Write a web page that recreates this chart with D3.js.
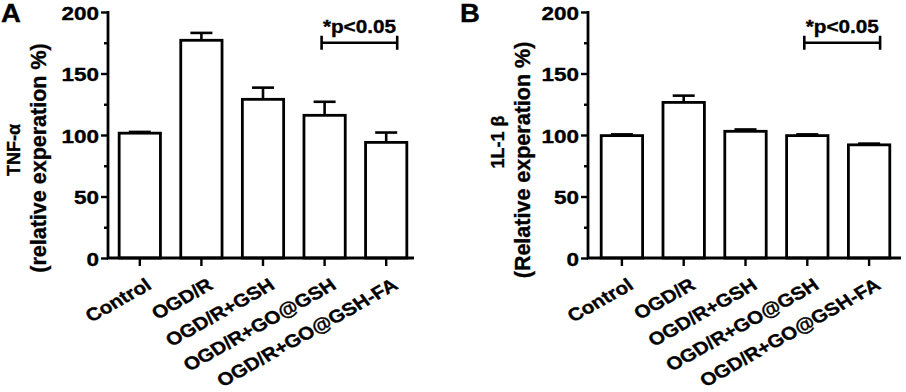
<!DOCTYPE html>
<html>
<head>
<meta charset="utf-8">
<script src="https://cdn.jsdelivr.net/npm/d3@7"></script>
<style>
  html, body { margin: 0; padding: 0; background: #fff; }
  svg { display: block; }
  text { font-family: "Liberation Sans", Arial, sans-serif; font-weight: bold; fill: #000; stroke: #000; stroke-width: 0.35px; }
</style>
</head>
<body>
<div id="chart"></div>
<script>
// groups on the x axis
let groups = ['Control', 'OGD/R', 'OGD/R+GSH', 'OGD/R+GO@GSH', 'OGD/R+GO@GSH-FA'];

// panel A : TNF-α
let tnfMean = [101.5, 177, 129, 116, 94];
let tnfErr = [1, 6, 9.5, 11, 8];

// panel B : IL-1β
let ilMean = [99.5, 126.5, 103, 99.5, 92];
let ilErr = [1, 5.5, 1.5, 1, 1];

let yTicks = [0, 50, 100, 150, 200];
let yMinorTicks = [25, 75, 125, 175];

let sigLabel = '*p<0.05';
let sigLevel = 175;

let width = 906;
let height = 392;

const svg = d3.select('#chart').append('svg')
  .attr('width', width)
  .attr('height', height);

// horizontal stretch used by the original figure's lettering
let stretch = (x, y, sx, rot) =>
  `translate(${x},${y}) scale(${sx},1)` + (rot ? ` rotate(${rot})` : '');

let panel = function(opt) {
  const g = svg.append('g');

  let y = d3.scaleLinear()
    .domain([0, 200])
    .range([258, 12]);

  let x = d3.scaleBand()
    .domain(groups)
    .range([opt.x0, opt.x1])
    .paddingInner(0.33)
    .paddingOuter(0.165);

  let bars = groups.map((name, i) => ({name, mean: opt.mean[i], err: opt.err[i]}));

  // bars
  g.selectAll('rect.bar')
    .data(bars)
    .join('rect')
    .attr('class', 'bar')
    .attr('x', d => x(d.name))
    .attr('y', d => y(d.mean))
    .attr('width', x.bandwidth())
    .attr('height', d => y(0) - y(d.mean))
    .attr('fill', '#fff')
    .attr('stroke', '#000')
    .attr('stroke-width', 2.8);

  // error bars (upper only)
  let cx = d => x(d.name) + x.bandwidth() / 2;
  g.selectAll('line.err')
    .data(bars)
    .join('line')
    .attr('x1', cx).attr('x2', cx)
    .attr('y1', d => y(d.mean))
    .attr('y2', d => y(d.mean + d.err))
    .attr('stroke', '#000')
    .attr('stroke-width', 2.6);

  g.selectAll('line.cap')
    .data(bars)
    .join('line')
    .attr('x1', d => cx(d) - 11).attr('x2', d => cx(d) + 11)
    .attr('y1', d => y(d.mean + d.err))
    .attr('y2', d => y(d.mean + d.err))
    .attr('stroke', '#000')
    .attr('stroke-width', 2.6);

  // y axis
  g.append('g')
    .attr('transform', `translate(${opt.axisX},0)`)
    .call(d3.axisLeft(y).tickValues(yMinorTicks).tickSize(4).tickSizeOuter(0).tickFormat(''))
    .call(g => g.select('.domain').remove())
    .call(g => g.selectAll('line').attr('stroke-width', 2.4));

  g.append('g')
    .attr('transform', `translate(${opt.axisX},0)`)
    .call(d3.axisLeft(y).tickValues(yTicks).tickSize(7).tickSizeOuter(0))
    .call(g => g.select('.domain').attr('stroke-width', 2.8).attr('d', `M0,${y(200) - 1}V${y(0) + 1}`))
    .call(g => g.selectAll('.tick line').attr('stroke-width', 2.4))
    .call(g => g.selectAll('.tick text')
      .attr('font-size', 18)
      .attr('font-family', null)
      .attr('text-anchor', 'end')
      .attr('x', null).attr('dy', null)
      .attr('transform', 'translate(-9,7) scale(1.25,1)'));

  // x axis
  g.append('g')
    .attr('transform', `translate(0,${y(0)})`)
    .call(d3.axisBottom(x).tickSize(8).tickSizeOuter(0).tickFormat(''))
    .call(g => g.select('.domain').attr('stroke-width', 2.8).attr('d', `M${opt.axisX - 1},0H${opt.axisEnd}`))
    .call(g => g.selectAll('.tick line').attr('stroke-width', 2.4));

  g.selectAll('text.xlab')
    .data(groups)
    .join('text')
    .attr('class', 'xlab')
    .attr('font-size', 18)
    .attr('text-anchor', 'end')
    .attr('transform', d => stretch(x(d) + x.bandwidth() / 2 + 13, 288, 1.15, -33))
    .text(d => d);

  // y titles
  g.append('text')
    .attr('font-size', 18)
    .attr('text-anchor', 'middle')
    .attr('transform', stretch(opt.t1x, opt.t1y, 1.05, -90))
    .text(opt.title1);

  g.append('text')
    .attr('font-size', 21.5)
    .attr('text-anchor', 'middle')
    .attr('transform', stretch(opt.t2x, opt.t2y, 1, -90))
    .text(opt.title2);

  // significance bracket
  let bx1 = x(groups[3]) + x.bandwidth() / 2 - 3;
  let bx2 = x(groups[4]) + x.bandwidth() / 2 + 11;
  let by = y(sigLevel);
  g.append('path')
    .attr('d', `M${bx1},${by - 7}V${by + 7}M${bx1},${by}H${bx2}M${bx2},${by - 7}V${by + 7}`)
    .attr('fill', 'none')
    .attr('stroke', '#000')
    .attr('stroke-width', 2.6);

  g.append('text')
    .attr('font-size', 18)
    .attr('text-anchor', 'middle')
    .attr('transform', stretch((bx1 + bx2) / 2, by - 10, 1.15))
    .text(sigLabel);

  // panel letter
  g.append('text')
    .attr('font-size', 25)
    .attr('transform', stretch(opt.letterX, 22, 1.1))
    .text(opt.letter);
};

panel({
  letter: 'A', letterX: 1,
  mean: tnfMean, err: tnfErr,
  axisX: 108, axisEnd: 414, x0: 109, x1: 417,
  title1: 'TNF-α', t1x: 20, t1y: 150,
  title2: '(relative experation %)', t2x: 46, t2y: 158
});

panel({
  letter: 'B', letterX: 460,
  mean: ilMean, err: ilErr,
  axisX: 588, axisEnd: 901, x0: 591, x1: 900,
  title1: '1L-1 β', t1x: 504, t1y: 142,
  title2: '(Relative experation %)', t2x: 530, t2y: 160
});
</script>
</body>
</html>
